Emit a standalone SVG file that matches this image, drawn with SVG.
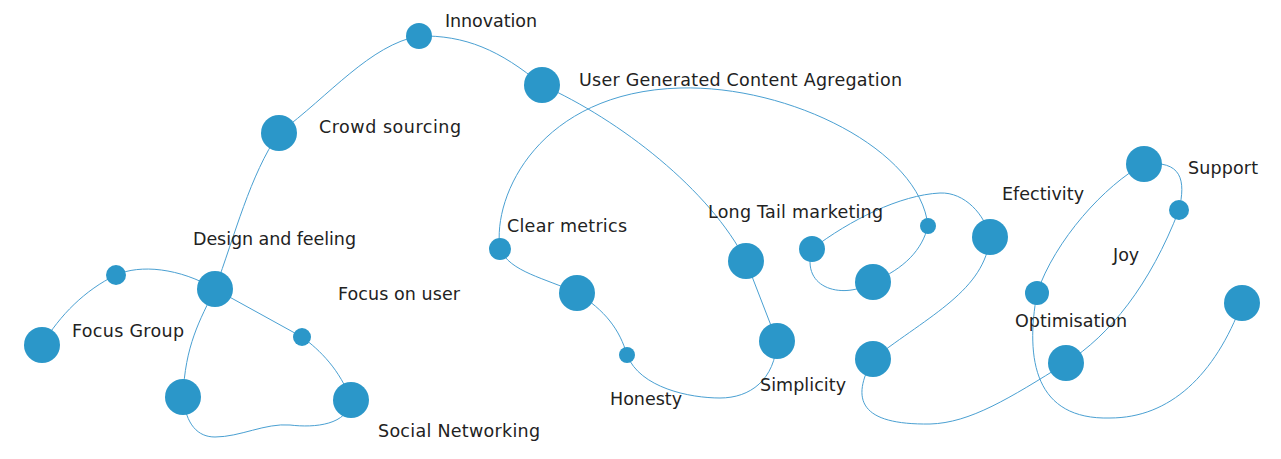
<svg xmlns="http://www.w3.org/2000/svg" width="1281" height="459" viewBox="0 0 1281 459">
<style>
.edge{fill:none;stroke:#4aa0d2;stroke-width:1}
.node{fill:#2b97c9}
.lbl{font-family:"DejaVu Sans","Liberation Sans",sans-serif;font-size:17.5px;fill:#222}
</style>
<rect width="1281" height="459" fill="#fff"/>
<g id="connectors">
<path class="edge" d="M42,345 C60,315 85,290 116,275"/>
<path class="edge" d="M116,275 C140,264 180,268 215,289"/>
<path class="edge" d="M215,289 L302,337"/>
<path class="edge" d="M302,337 C320,350 340,370 351,400"/>
<path class="edge" d="M351,400 C348,425 315,428 290,425 C265,423 240,437 215,437 C198,437 186,425 183,397"/>
<path class="edge" d="M183,397 C185,345 200,320 215,289"/>
<path class="edge" d="M215,289 C235,235 250,175 279,133"/>
<path class="edge" d="M279,133 C330,95 370,45 419,36"/>
<path class="edge" d="M419,36 C465,35 500,50 542,85"/>
<path class="edge" d="M542,85 C620,120 710,190 746,261"/>
<path class="edge" d="M746,261 L777,341"/>
<path class="edge" d="M777,341 C775,380 750,398 720,398 C690,398 640,388 627,355"/>
<path class="edge" d="M627,355 C620,330 605,310 577,293"/>
<path class="edge" d="M577,293 C545,278 510,272 500,249"/>
<path class="edge" d="M500,249 C492,195 540,92 680,88 C790,85 920,150 928,226"/>
<path class="edge" d="M928,226 C922,250 905,268 873,282"/>
<path class="edge" d="M873,282 C845,300 800,290 812,249"/>
<path class="edge" d="M812,249 C850,220 900,195 940,193 C965,192 985,215 990,237"/>
<path class="edge" d="M990,237 C985,290 930,315 873,359"/>
<path class="edge" d="M873,359 C850,400 860,425 930,424 C970,423 1010,398 1066,363"/>
<path class="edge" d="M1066,363 C1110,335 1150,285 1179,210"/>
<path class="edge" d="M1179,210 C1186,180 1182,160 1144,164"/>
<path class="edge" d="M1144,164 C1105,185 1055,240 1037,293"/>
<path class="edge" d="M1037,293 C1025,360 1035,420 1110,418 C1170,418 1215,375 1242,303"/>
</g>
<g id="focus-group"><circle class="node" cx="42" cy="345" r="18"/><text class="lbl" x="72" y="337" textLength="112">Focus Group</text></g>
<g id="n-small-1"><circle class="node" cx="116" cy="275" r="10"/></g>
<g id="design-and-feeling"><circle class="node" cx="215" cy="289" r="18"/><text class="lbl" x="193" y="245" textLength="163">Design and feeling</text></g>
<g id="focus-on-user"><circle class="node" cx="302" cy="337" r="9"/><text class="lbl" x="338" y="300" textLength="122">Focus on user</text></g>
<g id="social-networking"><circle class="node" cx="351" cy="400" r="18"/><text class="lbl" x="378" y="437" textLength="162">Social Networking</text></g>
<g id="n-bottom-left"><circle class="node" cx="183" cy="397" r="18"/></g>
<g id="crowd-sourcing"><circle class="node" cx="279" cy="133" r="18"/><text class="lbl" x="319" y="133" textLength="142">Crowd sourcing</text></g>
<g id="innovation"><circle class="node" cx="419" cy="36" r="13"/><text class="lbl" x="445" y="27" textLength="92">Innovation</text></g>
<g id="ugc-agregation"><circle class="node" cx="542" cy="85" r="18"/><text class="lbl" x="579" y="86" textLength="323">User Generated Content Agregation</text></g>
<g id="clear-metrics"><circle class="node" cx="500" cy="249" r="11"/><text class="lbl" x="507" y="232" textLength="120">Clear metrics</text></g>
<g id="n-mid-1"><circle class="node" cx="577" cy="293" r="18"/></g>
<g id="honesty"><circle class="node" cx="627" cy="355" r="8"/><text class="lbl" x="610" y="405" textLength="72">Honesty</text></g>
<g id="simplicity"><circle class="node" cx="777" cy="341" r="18"/><text class="lbl" x="760" y="391" textLength="86">Simplicity</text></g>
<g id="long-tail-marketing"><circle class="node" cx="746" cy="261" r="18"/><text class="lbl" x="708" y="218" textLength="175">Long Tail marketing</text></g>
<g id="n-mid-2"><circle class="node" cx="812" cy="249" r="13"/></g>
<g id="n-mid-3"><circle class="node" cx="873" cy="282" r="18"/></g>
<g id="n-mid-4"><circle class="node" cx="928" cy="226" r="8"/></g>
<g id="efectivity"><circle class="node" cx="990" cy="237" r="18"/><text class="lbl" x="1002" y="200" textLength="82">Efectivity</text></g>
<g id="n-mid-5"><circle class="node" cx="873" cy="359" r="18"/></g>
<g id="optimisation"><circle class="node" cx="1066" cy="363" r="18"/><text class="lbl" x="1015" y="327" textLength="112">Optimisation</text></g>
<g id="joy"><circle class="node" cx="1037" cy="293" r="12"/><text class="lbl" x="1113" y="261" font-size="18.5px">Joy</text></g>
<g id="support"><circle class="node" cx="1144" cy="164" r="18"/><text class="lbl" x="1188" y="174" textLength="70">Support</text></g>
<g id="n-right-small"><circle class="node" cx="1179" cy="210" r="10"/></g>
<g id="n-right"><circle class="node" cx="1242" cy="303" r="18"/></g>
</svg>
